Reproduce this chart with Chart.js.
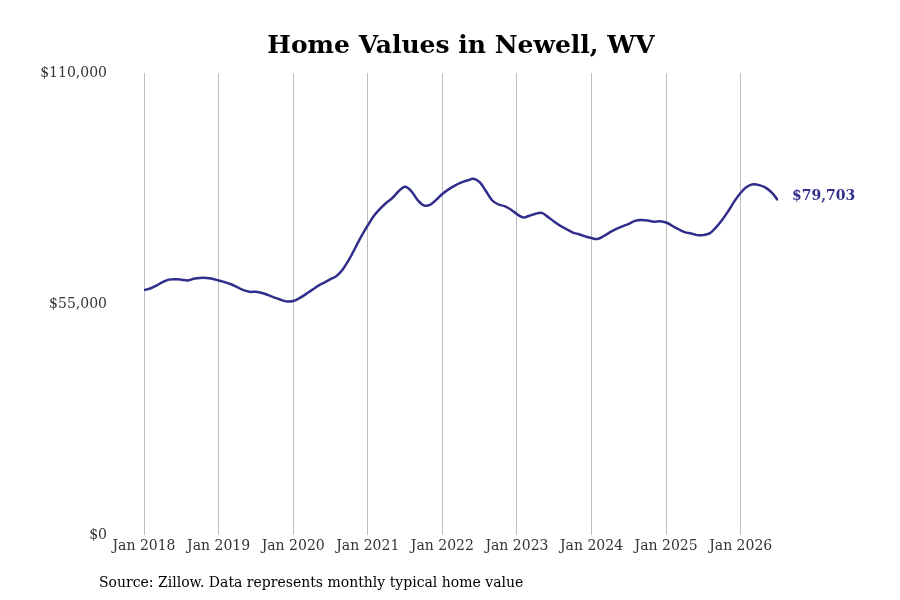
<!DOCTYPE html>
<html>
<head>
<meta charset="utf-8">
<title>Home Values in Newell, WV</title>
<script src="https://cdn.jsdelivr.net/npm/chart.js@4"></script>
<style>
  html, body { margin: 0; padding: 0; background: #fff; }
  #wrap { width: 900px; height: 600px; }
</style>
</head>
<body>
<div id="wrap"><canvas id="homeChart" width="900" height="600"></canvas></div>
<script>
(function(){

  // Year labels for the January gridlines
  var years = ["2018", "2019", "2020", "2021", "2022", "2023", "2024", "2025", "2026"];

  // Y axis ticks
  var yTicks = [0, 55000, 110000];

  // Monthly typical home value, Jan 2018 .. Jul 2026
  var values = [
    58300, 58700, 59400, 60200, 60800, 60900, 60800, 60600, 61000, 61200, 61200, 61000, // 2018
    60600, 60200, 59700, 59000, 58300, 57900, 57900, 57600, 57100, 56500, 56000, 55600, // 2019
    55700, 56400, 57300, 58300, 59300, 60100, 60900, 61700, 63300, 65600, 68400, 71200, // 2020
    73700, 76000, 77700, 79100, 80300, 81900, 82900, 81900, 79800, 78500, 78600, 79800, // 2021
    81200, 82300, 83200, 83900, 84400, 84800, 84000, 81900, 79700, 78700, 78300, 77500, // 2022
    76400, 75600, 76000, 76500, 76700, 75700, 74600, 73600, 72800, 72000, 71600, 71100, // 2023
    70700, 70500, 71200, 72100, 72900, 73500, 74100, 74800, 75000, 74900, 74600, 74700, // 2024
    74400, 73600, 72800, 72100, 71800, 71400, 71400, 71800, 73200, 75000, 77100, 79500, // 2025
    81500, 82900, 83500, 83300, 82700, 81500, 79703                                     // 2026
  ];

  var lineColor = "#302e8a";
  var fontFamily = "'DejaVu Serif', serif";

  var points = values.map(function(v, i) {
    return { x: i, y: v };
  });

  function money(v) {
    return "$" + v.toLocaleString("en-US");
  }

  // Title, source note and last value label
  var extras = {
    id: "extras",
    afterDraw: function(chart) {
      var c = chart.ctx;
      c.save();
      c.fillStyle = "#000";
      c.textBaseline = "middle";
      c.textAlign = "center";
      c.font = "bold 25px " + fontFamily;
      c.fillText("Home Values in Newell, WV", 461, 46);

      c.textAlign = "left";
      c.font = "14px " + fontFamily;
      c.fillText("Source: Zillow. Data represents monthly typical home value", 99, 583);

      var meta = chart.getDatasetMeta(0);
      var last = meta.data[meta.data.length - 1];
      c.fillStyle = lineColor;
      c.font = "bold 14px " + fontFamily;
      c.fillText(money(values[values.length - 1]), last.x + 14, last.y - 4);
      c.restore();
    }
  };

  var ctx = document.getElementById("homeChart");

  var homeChart = new Chart(ctx, {
    type: "line",
    data: {
      datasets: [{
        data: points,
        borderColor: lineColor,
        borderWidth: 2.5,
        pointRadius: 0,
        tension: 0.35,
        fill: false
      }]
    },
    options: {
      responsive: false,
      animation: false,
      layout: {
        padding: { top: 73, right: 122, bottom: 35, left: 0 }
      },
      plugins: {
        legend: { display: false },
        title: { display: false },
        tooltip: { enabled: false }
      },
      scales: {
        x: {
          type: "linear",
          min: 0,
          max: values.length - 1,
          border: { display: false },
          grid: {
            color: "#bdbdbd",
            lineWidth: 1,
            drawTicks: false
          },
          afterBuildTicks: function(scale) {
            scale.ticks = years.map(function(y, i) {
              return { value: i * 12 };
            });
          },
          afterFit: function(scale) {
            scale.height = 30;
          },
          ticks: {
            padding: 3,
            maxRotation: 0,
            autoSkip: false,
            color: "#333",
            font: { family: fontFamily, size: 14 },
            callback: function(v) {
              return "Jan " + years[v / 12];
            }
          }
        },
        y: {
          min: 0,
          max: 110000,
          border: { display: false },
          grid: { display: false, drawTicks: false },
          afterBuildTicks: function(scale) {
            scale.ticks = yTicks.map(function(v) {
              return { value: v };
            });
          },
          afterFit: function(scale) {
            scale.width = 144;
          },
          ticks: {
            padding: 37,
            color: "#333",
            font: { family: fontFamily, size: 14 },
            callback: function(v) {
              return money(v);
            }
          }
        }
      }
    },
    plugins: [extras]
  });

}())
</script>
</body>
</html>
